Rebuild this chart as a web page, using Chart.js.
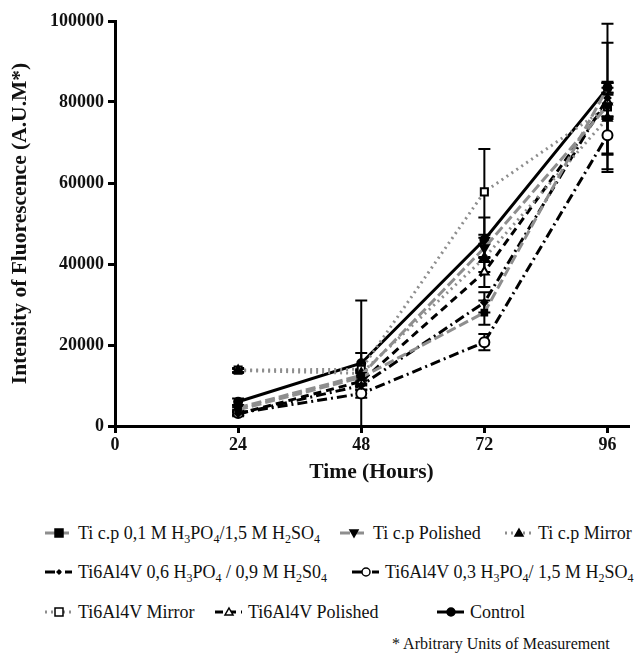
<!DOCTYPE html>
<html>
<head>
<meta charset="utf-8">
<script src="https://cdn.jsdelivr.net/npm/chart.js@4.4.0/dist/chart.umd.min.js"></script>
<style>
body { margin: 0; background: #fff; width: 635px; height: 664px; position: relative; overflow: hidden; font-family: 'Liberation Serif'; }
#wrap { position: absolute; left: 0; top: 0; width: 635px; height: 485px; }
.item { position: absolute; font-family: 'Liberation Serif'; font-size: 18px; white-space: nowrap; display: flex; align-items: center; height: 20px; color: #111; }
.item svg { margin-right: 6px; flex: none; }
sub { font-size: 12px; vertical-align: -4px; line-height: 0; }
#note { position: absolute; left: 392px; top: 635px; font-family: 'Liberation Serif'; font-size: 16px; color: #111; }
</style>
</head>
<body>
<div id="wrap"><canvas id="fluo"></canvas></div>
<div id="legend"></div>
<div id="note">* Arbitrary Units of Measurement</div>
<script>
//================================ Data ================================
var hours = [24, 48, 72, 96];
var xTicks = [0, 24, 48, 72, 96];

var seriesNames = [
    'Ti c.p 0,1 M H3PO4/1,5 M H2SO4',
    'Ti c.p Polished',
    'Ti c.p Mirror',
    'Ti6Al4V 0,6 H3PO4 / 0,9 M H2S04',
    'Ti6Al4V 0,3 H3PO4/ 1,5 M H2SO4',
    'Ti6Al4V Mirror',
    'Ti6Al4V Polished',
    'Control'
];
var seriesLegend = [
    'Ti c.p 0,1 M H<sub>3</sub>PO<sub>4</sub>/1,5 M H<sub>2</sub>SO<sub>4</sub>',
    'Ti c.p Polished',
    'Ti c.p Mirror',
    'Ti6Al4V 0,6 H<sub>3</sub>PO<sub>4</sub> / 0,9 M H<sub>2</sub>S0<sub>4</sub>',
    'Ti6Al4V 0,3 H<sub>3</sub>PO<sub>4</sub>/ 1,5 M H<sub>2</sub>SO<sub>4</sub>',
    'Ti6Al4V Mirror',
    'Ti6Al4V Polished',
    'Control'
];

// mean values at 24, 48, 72, 96 h
var tiAcid       = [4000, 12000, 28000, 83500];
var tiPolished   = [4500, 12500, 44000, 79000];
var tiMirror     = [13700, 13000, 41500, 76000];
var ti64Acid06   = [3000, 10000, 30500, 81000];
var ti64Acid03   = [3200, 8000, 20700, 71800];
var ti64Mirror   = [13800, 14000, 57800, 78800];
var ti64Polished = [3000, 11000, 38000, 80000];
var control      = [6000, 15500, 46000, 83500];

// standard deviations
var tiAcidErr       = [600, 1500, 3000, 1200];
var tiPolishedErr   = [500, 1200, 2500, 15600];
var tiMirrorErr     = [400, 1000, 3500, 9000];
var ti64Acid06Err   = [400, 1200, 2500, 18300];
var ti64Acid03Err   = [500, 1000, 2000, 4500];
var ti64MirrorErr   = [500, 17000, 10600, 3000];
var ti64PolishedErr = [400, 1000, 3700, 3500];
var controlErr      = [800, 2500, 5500, 1200];

//================================ Styles ================================
var GREY = '#8e8e8e';
var FONT = 'Liberation Serif';
var seriesValues = [tiAcid, tiPolished, tiMirror, ti64Acid06, ti64Acid03, ti64Mirror, ti64Polished, control];
var seriesErrors = [tiAcidErr, tiPolishedErr, tiMirrorErr, ti64Acid06Err, ti64Acid03Err, ti64MirrorErr, ti64PolishedErr, controlErr];
var styles = [
    { color: GREY,   dash: [10, 4],       shape: 'rect',     rot: 0,   fill: '#000', r: 4 },
    { color: GREY,   dash: [10, 4],       shape: 'triangle', rot: 180, fill: '#000', r: 5 },
    { color: GREY,   dash: [2, 4],        shape: 'triangle', rot: 0,   fill: '#000', r: 5 },
    { color: '#000', dash: [10, 4, 2, 4], shape: 'rectRot',  rot: 0,   fill: '#000', r: 3 },
    { color: '#000', dash: [10, 4, 2, 4], shape: 'circle',   rot: 0,   fill: '#fff', r: 5 },
    { color: GREY,   dash: [2, 4],        shape: 'rect',     rot: 0,   fill: '#fff', r: 5 },
    { color: '#000', dash: [8, 5],        shape: 'triangle', rot: 0,   fill: '#fff', r: 5 },
    { color: '#000', dash: [],            shape: 'circle',   rot: 0,   fill: '#000', r: 4 }
];
var legendPos = [[45, 523], [340, 523], [505, 523], [45, 562], [352, 562], [45, 602], [215, 602], [437, 602]];

var datasets = seriesValues.map(function(vals, i) {
    var s = styles[i];
    return {
        label: seriesNames[i],
        data: vals.map(function(v, j) { return { x: hours[j], y: v }; }),
        errors: seriesErrors[i],
        borderColor: s.color,
        borderDash: s.dash,
        borderWidth: 3,
        pointStyle: s.shape,
        pointRotation: s.rot,
        pointRadius: s.r,
        pointBorderWidth: 2,
        pointBorderColor: '#000',
        pointBackgroundColor: s.fill,
        tension: 0,
        fill: false
    };
});

//================================ Error bars ================================
var errorBars = {
    id: 'errorBars',
    beforeDatasetsDraw: function(chart) {
        var ctx = chart.ctx, xs = chart.scales.x, ys = chart.scales.y, area = chart.chartArea;
        ctx.save();
        ctx.beginPath();
        ctx.rect(area.left, area.top - 4, area.right - area.left, area.bottom - area.top + 4);
        ctx.clip();
        ctx.strokeStyle = '#000';
        ctx.lineWidth = 2;
        chart.data.datasets.forEach(function(ds) {
            ds.data.forEach(function(p, i) {
                var e = ds.errors[i];
                var x = xs.getPixelForValue(p.x);
                var top = ys.getPixelForValue(p.y + e);
                var bot = ys.getPixelForValue(p.y - e);
                ctx.beginPath();
                ctx.moveTo(x, top); ctx.lineTo(x, bot);
                ctx.moveTo(x - 6, top); ctx.lineTo(x + 6, top);
                ctx.moveTo(x - 6, bot); ctx.lineTo(x + 6, bot);
                ctx.stroke();
            });
        });
        ctx.restore();
    }
};

//================================ Chart ================================
Chart.defaults.font.family = FONT;
var tickFont = { family: FONT, size: 18, weight: 'bold' };
var titleFont = { family: FONT, size: 21.5, weight: 'bold' };

var ctx = document.getElementById('fluo');
var fluoChart = new Chart(ctx, {
    type: 'line',
    data: { datasets: datasets },
    plugins: [errorBars],
    options: {
        responsive: true,
        maintainAspectRatio: false,
        animation: false,
        layout: { padding: { top: 21, right: 4, left: 0, bottom: 0 } },
        plugins: { legend: { display: false }, tooltip: { enabled: false } },
        scales: {
            x: {
                type: 'linear',
                min: 0,
                max: 100,
                afterBuildTicks: function(axis) {
                    axis.ticks = xTicks.map(function(v) { return { value: v }; });
                },
                afterFit: function(axis) { axis.height = 59; },
                grid: { display: true, drawOnChartArea: false, drawTicks: true, tickLength: 7, color: '#000', lineWidth: 3 },
                border: { display: true, color: '#000', width: 3 },
                ticks: { color: '#111', font: tickFont, padding: 2, maxRotation: 0 },
                title: { display: true, text: 'Time (Hours)', color: '#111', font: titleFont, padding: { top: 2, bottom: 0 } }
            },
            y: {
                min: 0,
                max: 100000,
                afterFit: function(axis) { axis.width = 115; },
                grid: { display: true, drawOnChartArea: false, drawTicks: true, tickLength: 7, color: '#000', lineWidth: 3 },
                border: { display: true, color: '#000', width: 3 },
                ticks: {
                    stepSize: 20000,
                    color: '#111',
                    font: tickFont,
                    padding: 4,
                    callback: function(v) { return String(v); }
                },
                title: { display: true, text: 'Intensity of Fluorescence (A.U.M*)', color: '#111', font: titleFont, padding: { top: 8, bottom: 0 } }
            }
        }
    }
});

//================================ Legend ================================
function markerSvg(s) {
    var w = 27, h = 16, cx = 14, cy = 8, shape = '';
    var stroke = 'stroke="#000" stroke-width="1.5"';
    if (s.shape === 'rect') {
        shape = '<rect x="' + (cx - 4) + '" y="' + (cy - 4) + '" width="8" height="8" fill="' + s.fill + '" ' + stroke + '/>';
    } else if (s.shape === 'circle') {
        shape = '<circle cx="' + cx + '" cy="' + cy + '" r="4" fill="' + s.fill + '" ' + stroke + '/>';
    } else if (s.shape === 'rectRot') {
        shape = '<polygon points="14,5 17,8 14,11 11,8" fill="#000"/>';
    } else if (s.rot === 180) {
        shape = '<polygon points="10,5 18,5 14,12" fill="' + s.fill + '" ' + stroke + '/>';
    } else {
        shape = '<polygon points="14,4 18,11 10,11" fill="' + s.fill + '" ' + stroke + '/>';
    }
    var dash = s.dash.length ? ' stroke-dasharray="' + s.dash.join(',') + '"' : '';
    return '<svg width="' + w + '" height="' + h + '"><line x1="0" y1="' + cy + '" x2="' + w + '" y2="' + cy +
        '" stroke="' + s.color + '" stroke-width="3"' + dash + '/>' + shape + '</svg>';
}

var legendHtml = '';
for (var i in seriesLegend) {
    legendHtml += '<div class="item" style="left:' + legendPos[i][0] + 'px;top:' + legendPos[i][1] + 'px">' +
        markerSvg(styles[i]) + '<span>' + seriesLegend[i] + '</span></div>';
}
document.getElementById('legend').innerHTML = legendHtml;
</script>
</body>
</html>
